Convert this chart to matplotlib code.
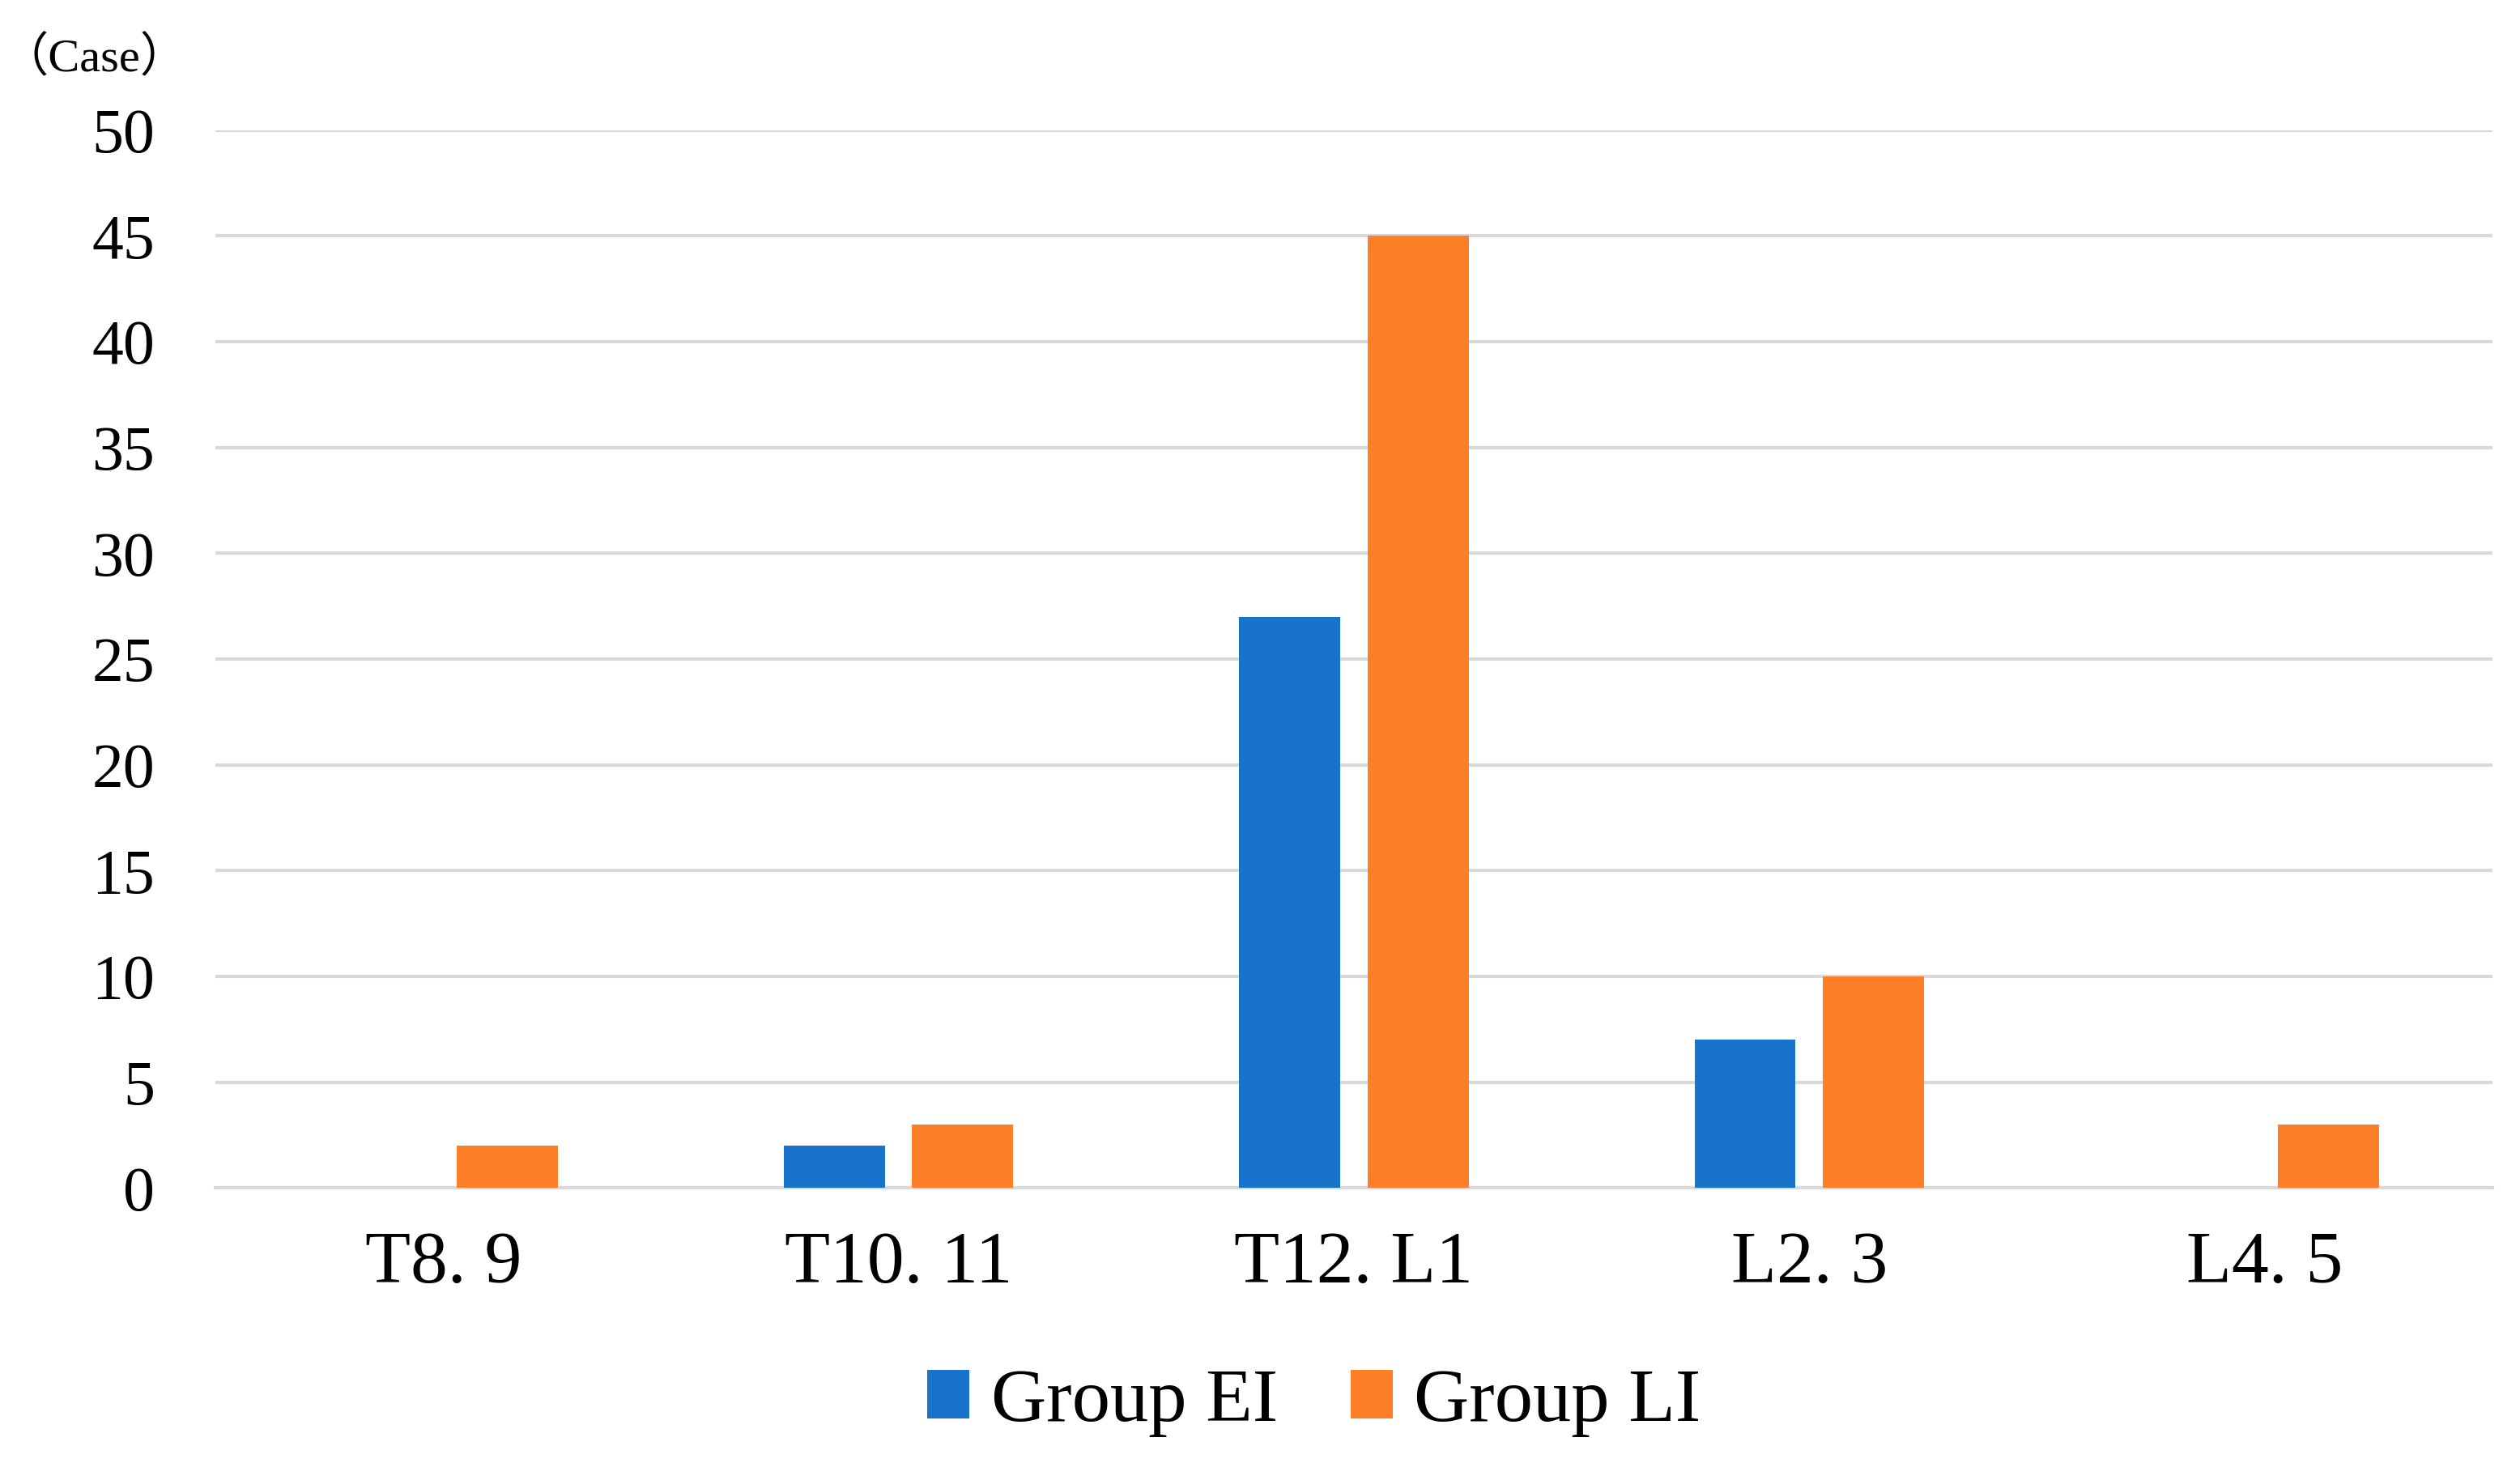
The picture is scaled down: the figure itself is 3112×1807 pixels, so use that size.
import matplotlib
matplotlib.use("Agg")
import matplotlib.pyplot as plt
import numpy as np

categories = ["T8. 9", "T10. 11", "T12. L1", "L2. 3", "L4. 5"]
group_ei = [0, 2, 27, 7, 0]
group_li = [2, 3, 45, 10, 3]
series_names = ["Group EI", "Group LI"]
yticks = [0, 5, 10, 15, 20, 25, 30, 35, 40, 45, 50]

plt.rcParams['font.family'] = ['Liberation Serif', 'Noto Sans CJK SC', 'DejaVu Sans']

fig = plt.figure(figsize=(15.56, 9.035), dpi=200)
ax = fig.add_axes([0.0855, 0.188, 0.9035, 0.723])

x = np.arange(len(categories))
w = 0.222
off = 0.141
c_blue = "#1874CB"
c_orange = "#FE7F27"
ax.bar(x - off, group_ei, width=w, color=c_blue, label=series_names[0], zorder=3)
ax.bar(x + off, group_li, width=w, color=c_orange, label=series_names[1], zorder=3)

ax.set_xlim(-0.5, len(categories) - 0.5)
ax.set_ylim(0, 50)
ax.set_yticks(yticks)
ax.set_yticklabels([str(t) for t in yticks], fontsize=28)
ax.set_xticks(x)
ax.set_xticklabels(categories, fontsize=33)
ax.tick_params(axis='y', length=0, pad=27)
ax.tick_params(axis='x', length=0, pad=19)
ax.yaxis.grid(True, color="#d9d9d9", linewidth=1.5, zorder=0)
ax.set_axisbelow(True)
for s in ["top", "right", "left"]:
    ax.spines[s].set_visible(False)
ax.spines["bottom"].set_color("#d9d9d9")
ax.spines["bottom"].set_linewidth(1.5)

fig.text(0.0005, 0.960, "（Case）", fontsize=21, va="center", ha="left")

fig.legend(loc="center", bbox_to_anchor=(0.5215, 0.041), ncol=2, frameon=False,
           fontsize=34, handlelength=0.55, handleheight=0.6, handletextpad=0.28,
           columnspacing=0.95)

fig.savefig("out.png", dpi=200)
